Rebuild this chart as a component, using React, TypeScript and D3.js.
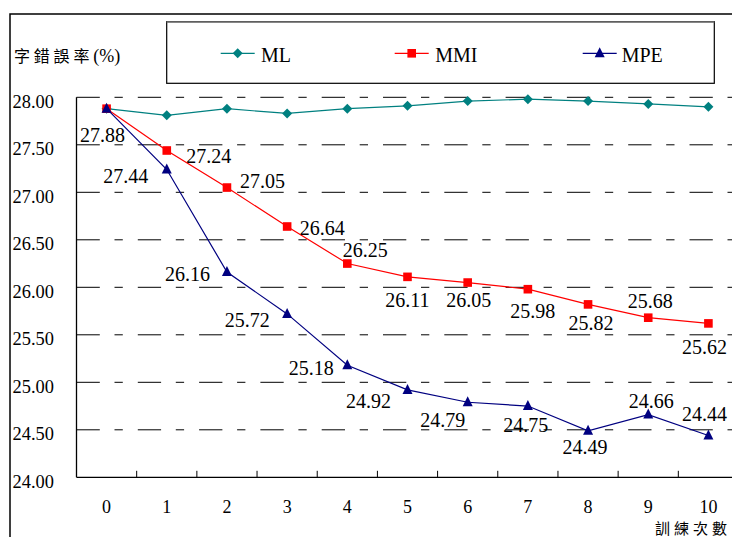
import React from "react";
import * as d3 from "d3";

const categories = ["0", "1", "2", "3", "4", "5", "6", "7", "8", "9", "10"];
const mlValues = [27.88, 27.81, 27.88, 27.83, 27.88, 27.91, 27.96, 27.98, 27.96, 27.93, 27.9];
const mmiValues = [27.88, 27.44, 27.05, 26.64, 26.25, 26.11, 26.05, 25.98, 25.82, 25.68, 25.62];
const mpeValues = [27.88, 27.24, 26.16, 25.72, 25.18, 24.92, 24.79, 24.75, 24.49, 24.66, 24.44];
const yTicks = [24, 24.5, 25, 25.5, 26, 26.5, 27, 27.5, 28];
const seriesNames = ["ML", "MMI", "MPE"];
const yTitle = "字錯誤率";
const yTitleUnit = "(%)";
const xTitle = "訓練次數";

// label offsets (dx, dy) relative to each point; null = no label
const mmiLabelOffsets: ([number, number] | null)[] = [
  [-4, 33], [-41, 32.5], [35.5, 0], [35, 8.5], [18, -6.5], [0, 30], [1, 24.5], [5, 29], [3, 25.6], [2, -10], [-4, 30.6],
];
const mpeLabelOffsets: ([number, number] | null)[] = [
  null, [42, -6.5], [-39.5, 9], [-40, 13], [-36, 10], [-39, 18], [-25, 25], [-2, 26], [-3, 23], [3, -6.6], [-4, -15],
];

const W = 732;
const H = 537;
const left = 76.5;
const right = 738.5;
const top = 97.3;
const bottom = 477.3;

const SERIF = "Liberation Serif";
const CJK = "Noto Sans CJK TC";

const COLORS = ["#008080", "#FF0000", "#000080"];

function Marker({ kind, x, y, color }: { kind: number; x: number; y: number; color: string }) {
  if (kind === 0) {
    const s = 5;
    return <path d={`M${x},${y - s}L${x + s},${y}L${x},${y + s}L${x - s},${y}Z`} fill={color} />;
  }
  if (kind === 1) {
    const s = 4.3;
    return <rect x={x - s} y={y - s} width={2 * s} height={2 * s} fill={color} />;
  }
  const s = 5;
  return <path d={`M${x},${y - s - 1}L${x + s},${y + s - 1}L${x - s},${y + s - 1}Z`} fill={color} />;
}

const serif = (size: number): React.CSSProperties => ({ fontFamily: SERIF, fontSize: size + "px" });
const cjk = (size: number): React.CSSProperties => ({ fontFamily: CJK, fontSize: size + "px" });

export default function App() {
  const x = d3.scaleBand<string>().domain(categories).range([left, right]).paddingInner(0).paddingOuter(0);
  const y = d3.scaleLinear().domain([24, 28]).range([bottom, top]);
  const cx = (c: string) => (x(c) as number) + x.bandwidth() / 2;
  const line = d3
    .line<number>()
    .x((_, i) => cx(categories[i]))
    .y((v) => y(v));

  const allSeries = [mlValues, mmiValues, mpeValues];
  const boundaries = categories.slice(1).map((c) => x(c) as number);

  const legendX = [237.7, 411.7, 599.7];
  const legendTextX = [261, 435.3, 621.7];

  return (
    <svg width={W} height={H} style={{ position: "absolute", left: 0, top: 0, background: "#fff" }}>
      <rect x={0} y={0} width={W} height={H} fill="#fff" />
      {/* outer frame */}
      <path d={`M10,${H}V14H${W}`} fill="none" stroke="#000" strokeWidth={1.5} />

      {/* legend box */}
      <rect x={166.7} y={21.7} width={547.6} height={61.6} fill="#fff" stroke="#000" strokeWidth={1.2} />
      <line x1={166.7} x2={714.3} y1={22} y2={22} stroke="#777" strokeWidth={1.5} />
      {seriesNames.map((n, i) => (
        <g key={n}>
          <line x1={legendX[i] - 17} x2={legendX[i] + 17} y1={53.3} y2={53.3} stroke={COLORS[i]} strokeWidth={1.2} />
          <Marker kind={i} x={legendX[i]} y={53.3} color={COLORS[i]} />
          <text x={legendTextX[i]} y={61.5} style={serif(20)} fill="#000">
            {n}
          </text>
        </g>
      ))}

      {/* y title */}
      <text x={14} y={62} style={cjk(16)} fill="#000">
        <tspan letterSpacing={3.8}>{yTitle}</tspan>
        <tspan style={serif(18)}>{yTitleUnit}</tspan>
      </text>

      {/* gridlines */}
      {yTicks
        .filter((t) => t > 24)
        .map((t) => (
          <line
            key={t}
            x1={left}
            x2={W}
            y1={y(t)}
            y2={y(t)}
            stroke="#000"
            strokeWidth={1}
            strokeDasharray="23.3 14.7 8.3 15"
          />
        ))}

      {/* y tick labels */}
      {yTicks.map((t) => (
        <text key={t} x={12.5} y={y(t) + 10.5} style={serif(18.4)} fill="#000">
          {t.toFixed(2)}
        </text>
      ))}

      {/* axes */}
      <line x1={left} x2={left} y1={top} y2={bottom} stroke="#000" strokeWidth={1.3} />
      <line x1={left} x2={W} y1={bottom} y2={bottom} stroke="#000" strokeWidth={1.3} />
      {boundaries.map((b, i) => (
        <line key={i} x1={b} x2={b} y1={bottom} y2={bottom - 6.5} stroke="#000" strokeWidth={1} />
      ))}

      {/* x tick labels */}
      {categories.map((c) => (
        <text key={c} x={cx(c)} y={512.5} style={serif(18)} textAnchor="middle" fill="#000">
          {c}
        </text>
      ))}
      <text x={655} y={533.5} style={cjk(15)} letterSpacing={4} fill="#000">
        {xTitle}
      </text>

      {/* series */}
      {allSeries.map((vals, si) => (
        <g key={si}>
          <path d={line(vals) as string} fill="none" stroke={COLORS[si]} strokeWidth={1.2} />
          {vals.map((v, i) => (
            <Marker key={i} kind={si} x={cx(categories[i])} y={y(v)} color={COLORS[si]} />
          ))}
        </g>
      ))}

      {/* data labels */}
      {mmiValues.map((v, i) => {
        const o = mmiLabelOffsets[i];
        if (!o) return null;
        return (
          <text key={"a" + i} x={cx(categories[i]) + o[0]} y={y(v) + o[1]} style={serif(20)} textAnchor="middle" fill="#000">
            {v.toFixed(2)}
          </text>
        );
      })}
      {mpeValues.map((v, i) => {
        const o = mpeLabelOffsets[i];
        if (!o) return null;
        return (
          <text key={"b" + i} x={cx(categories[i]) + o[0]} y={y(v) + o[1]} style={serif(20)} textAnchor="middle" fill="#000">
            {v.toFixed(2)}
          </text>
        );
      })}
    </svg>
  );
}
